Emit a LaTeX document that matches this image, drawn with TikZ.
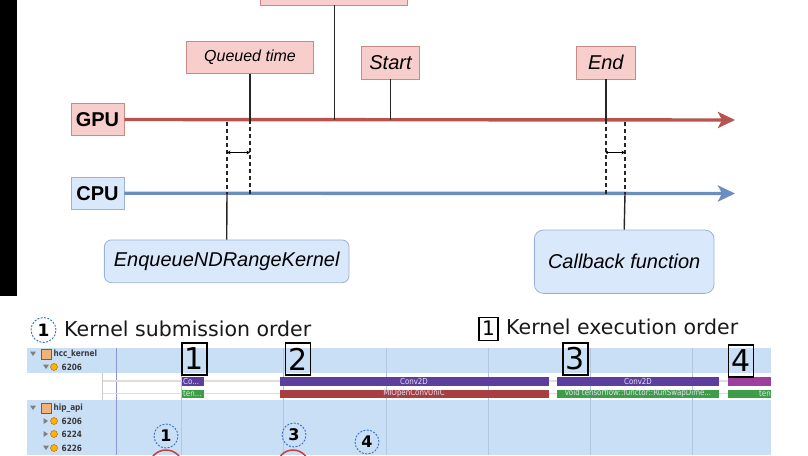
\documentclass[tikz,border=0pt]{standalone}
\usepackage{fontspec}
\setmainfont{Liberation Sans}
\newfontfamily\dvs{DejaVu Sans}
\newfontfamily\dvsc{DejaVu Sans}[FakeStretch=0.85]
\usetikzlibrary{arrows.meta}
\definecolor{gpuline}{HTML}{B85450}
\definecolor{gpufill}{HTML}{F8CECC}
\definecolor{gpubord}{HTML}{C98A87}
\definecolor{cpuline}{HTML}{6C8EBF}
\definecolor{cpufill}{HTML}{DAE8FC}
\definecolor{cpubord}{HTML}{9AB2D6}
\definecolor{panelc}{HTML}{C9DFF5}
\definecolor{gridc}{HTML}{B3C8DE}
\definecolor{barpurple}{HTML}{5B3E9E}
\definecolor{barred}{HTML}{A83E42}
\definecolor{bargreen}{HTML}{3E9E48}
\definecolor{barmag}{HTML}{9E3E9E}
\definecolor{dashblue}{HTML}{3A6FC8}
\definecolor{treetxt}{HTML}{3A3A3A}
\definecolor{redcirc}{HTML}{D03A3A}
\definecolor{bartxt}{HTML}{E6E0F4}
\definecolor{vline}{HTML}{8F95D8}
\begin{document}
\begin{tikzpicture}[x=1pt,y=-1pt,
  pinkbox/.style={draw=gpubord, fill=gpufill, line width=0.8pt, inner sep=0pt, text=black},
  bluebox/.style={draw=cpubord, fill=cpufill, line width=0.8pt, inner sep=0pt, text=black},
  tline/.style={line width=1.4pt, black!85},
  dline/.style={line width=1.4pt, black!85, dash pattern=on 4pt off 3pt},
  axisarrow/.style={line width=3.4pt, -{Stealth[length=17pt,width=16pt,inset=4pt]}},
  gapar/.style={line width=0.7pt},
  numbox/.style={draw=black, line width=1.8pt, inner sep=0pt, minimum width=25pt, minimum height=32pt, font=\dvs\fontsize{30}{30}\selectfont},
  dcirc/.style={circle, draw=dashblue, line width=0.9pt, dash pattern=on 2pt off 1.4pt, inner sep=0pt, minimum size=24pt, font=\dvs\bfseries\fontsize{16}{16}\selectfont},
  bartext/.style={inner sep=0pt, text=bartxt, font=\dvsc\fontsize{8.3}{8.3}\selectfont},
  treelabel/.style={anchor=west, inner sep=0pt, text=treetxt, font=\dvsc\bfseries\fontsize{8.6}{8.6}\selectfont},
  legendtext/.style={anchor=west, inner sep=0pt, text=black!90, font=\dvs\fontsize{20.5}{20.5}\selectfont},
  ball/.style={circle, fill=orange!60!yellow, draw=orange!70!black, line width=0.4pt, inner sep=0pt, minimum size=7pt},
  folder/.style={fill=brown!40!orange!60, draw=brown!70!black, line width=0.4pt}
]
\useasboundingbox (0,0) rectangle (808,455);
\clip (0,0) rectangle (808,455);
\fill[white] (0,0) rectangle (808,455);
\fill[black] (0,0) rectangle (16.5,296);

% ---------- top timeline ----------
\node[pinkbox, minimum width=147pt, minimum height=31pt] (topbox) at (334.2,-10.5) {};
\node[pinkbox, minimum width=126.6pt, minimum height=31.6pt, font=\itshape\fontsize{16}{18}\selectfont] (queued) at (250,57.5) {Queued time};
\node[pinkbox, minimum width=57.6pt, minimum height=32.3pt, font=\itshape\fontsize{20}{22}\selectfont] (start) at (390.5,62.8) {Start};
\node[pinkbox, minimum width=58.3pt, minimum height=32.3pt, font=\itshape\fontsize{20}{22}\selectfont] (endb) at (605.8,62.8) {End};
\node[pinkbox, minimum width=53pt, minimum height=31.6pt, font=\bfseries\fontsize{20}{22}\selectfont] (gpu) at (97.5,119.5) {GPU};
\node[bluebox, minimum width=53pt, minimum height=31.7pt, font=\bfseries\fontsize{20}{22}\selectfont] (cpu) at (97.5,193.2) {CPU};
\node[bluebox, rounded corners=7pt, minimum width=244.7pt, minimum height=42.7pt, font=\itshape\fontsize{20}{22}\selectfont] (enq) at (226.7,261.3) {EnqueueNDRangeKernel};
\node[bluebox, rounded corners=9pt, minimum width=179.7pt, minimum height=63.3pt, font=\itshape\fontsize{20}{22}\selectfont] (cb) at (624.2,261.7) {Callback function};

\coordinate (gpuend) at (735,120);
\coordinate (cpuend) at (735,193.5);
\coordinate (g-top) at (334.2,120);
\coordinate (g-q) at (250,120);
\coordinate (g-s) at (390.5,120);
\coordinate (g-e) at (605.8,120);
\coordinate (g-l) at (227,122);
\coordinate (g-r) at (625,122);
\coordinate (c-l) at (227,193.5);
\coordinate (c-q) at (250,193.5);
\coordinate (c-e) at (605.8,193.5);
\coordinate (c-r) at (625,193.5);
\coordinate (al) at (227,152.5);
\coordinate (ar) at (250,152.5);
\coordinate (bl) at (605.8,152.5);
\coordinate (br) at (625,152.5);

\draw[axisarrow, gpuline] (gpu.east) -- (gpuend);
\draw[axisarrow, cpuline] (cpu.east) -- (cpuend);

\draw[tline] (topbox.south) -- (g-top);
\draw[tline] (queued.south) -- (g-q);
\draw[tline] (start.south) -- (g-s);
\draw[tline] (endb.south) -- (g-e);
\draw[dline] (g-l) -- (c-l);
\draw[dline] (g-q) -- (c-q);
\draw[dline] (g-e) -- (c-e);
\draw[dline] (g-r) -- (c-r);
\draw[tline] (c-l) -- (enq.north);
\draw[tline] (c-r) -- (cb.north);
\draw[gapar, {Stealth[length=3.5pt,width=3.5pt]}-{Stealth[length=3.5pt,width=3.5pt]}] (al) -- (ar);
\draw[gapar, {Circle[length=2.6pt]}-{Stealth[length=3.5pt,width=3.5pt]}] (bl) -- (br);

% ---------- legend ----------
\node[dcirc, minimum size=25pt, font=\dvs\bfseries\fontsize{17}{17}\selectfont] (leg1) at (43.5,330) {1};
\node[legendtext] (legsub) at (64,329.2) {Kernel submission order};
\node[draw=black, line width=1.2pt, inner sep=0pt, minimum width=19pt, minimum height=23pt, font=\dvs\fontsize{20}{20}\selectfont] (legbox) at (488.5,328.7) {1};
\node[legendtext] (legexe) at (506,327.3) {Kernel execution order};

% ---------- trace panel ----------
\fill[panelc] (27,348) rectangle (771,455);
\fill[white] (27,373) rectangle (771,400);
\foreach \gx in {181,283,386,488,590,692} \draw[gridc, line width=0.8pt] (\gx,348) -- (\gx,455);
\draw[gray!40, line width=0.8pt] (102,373) -- (102,400);
\draw[vline, line width=0.8pt] (116,348) -- (116,455);
\draw[red!15!gray!25, line width=1.2pt] (103,381) -- (771,381);
\draw[red!15!gray!25, line width=1.2pt] (103,393.5) -- (771,393.5);

% bars row 1
\fill[barpurple] (182,377) rectangle (204,385.5);
\fill[barpurple] (280,377) rectangle (549,385.5);
\fill[barpurple] (557,377) rectangle (719,385.5);
\fill[barmag] (728,377) rectangle (771,385.5);
% bars row 2
\fill[bargreen] (182,389.5) rectangle (204,397.5);
\fill[barred] (280,389.5) rectangle (549,397.5);
\fill[bargreen] (557,389.5) rectangle (719,397.5);
\fill[bargreen] (728,389.5) rectangle (771,397.5);

\node[bartext, anchor=west] (t1a) at (183,381.3) {Co...};
\node[bartext, anchor=west] (t1b) at (183,393.6) {ten...};
\node[bartext] (t2a) at (414,381.3) {Conv2D};
\node[bartext] (t2b) at (414,393.6) {MIOpenConvUniC};
\node[bartext] (t3a) at (638,381.3) {Conv2D};
\node[bartext] (t3b) at (638,393.6) {void tensorflow::functor::RunSwapDime...};
\node[bartext, anchor=east] (t4b) at (771,393.6) {ten};

% boxed execution numbers
\node[numbox] (n1) at (194.5,359) {1};
\node[numbox] (n2) at (298,359) {2};
\node[numbox] (n3) at (575.5,359) {3};
\node[numbox] (n4) at (741,361) {4};

% tree
\fill[gray] (30,351.5) -- (36,351.5) -- (33,356) -- cycle;
\draw[folder] (41,349) rectangle (51.5,359);
\node[treelabel] (hcc) at (53.5,354) {hcc\_kernel};
\fill[gray] (43,364.5) -- (49,364.5) -- (46,369) -- cycle;
\node[ball] (b1) at (54,367) {};
\node[treelabel] (p1) at (61.5,367) {6206};
\fill[gray] (30,405.5) -- (36,405.5) -- (33,410) -- cycle;
\draw[folder] (41,403) rectangle (51.5,413);
\node[treelabel] (hip) at (53.5,408) {hip\_api};
\fill[gray] (43.5,418) -- (43.5,424) -- (48,421) -- cycle;
\node[ball] (b2) at (54,421) {};
\node[treelabel] (p2) at (61.5,421) {6206};
\fill[gray] (43.5,431) -- (43.5,437) -- (48,434) -- cycle;
\node[ball] (b3) at (54,434) {};
\node[treelabel] (p3) at (61.5,434) {6224};
\fill[gray] (43,445.5) -- (49,445.5) -- (46,450) -- cycle;
\node[ball] (b4) at (54,448) {};
\node[treelabel] (p4) at (61.5,448) {6226};

% submission circles
\node[dcirc] (s1) at (166,436) {1};
\node[dcirc] (s3) at (294,435) {3};
\node[dcirc] (s4) at (367,442) {4};
\node[circle, draw=redcirc, line width=1.5pt, minimum size=34pt, inner sep=0pt] (r1) at (166,467) {};
\node[circle, draw=redcirc, line width=1.5pt, minimum size=32pt, inner sep=0pt] (r3) at (293,466) {};
\end{tikzpicture}
\end{document}
